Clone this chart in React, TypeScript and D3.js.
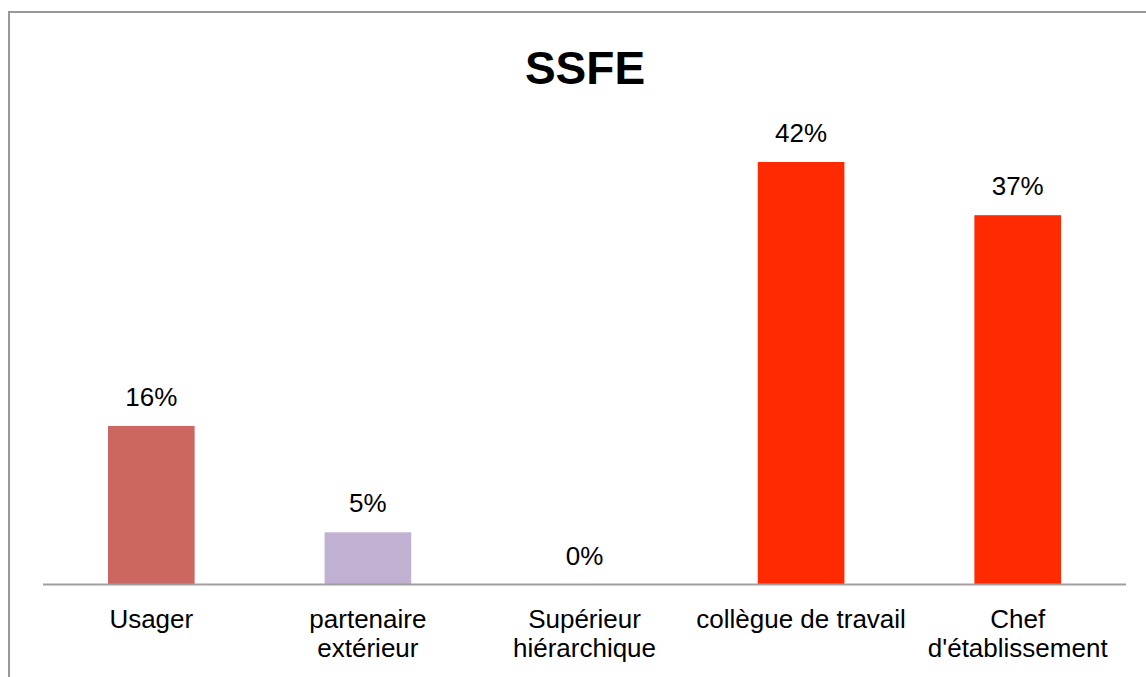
import React from 'react';
import * as d3 from 'd3';

const title = 'SSFE';
const categories = ['Usager', 'partenaire extérieur', 'Supérieur hiérarchique', 'collègue de travail', "Chef d'établissement"];
const categoryLines = [['Usager'], ['partenaire', 'extérieur'], ['Supérieur', 'hiérarchique'], ['collègue de travail'], ['Chef', "d'établissement"]];
const values = [15.8, 5.2, 0, 42.1, 36.8];
const barColors = ['#CC6660', '#C0B1D3', '#FF2A00', '#FF2A00', '#FF2A00'];

const App = () => {
  const width = 1146;
  const height = 677;
  const plot = { left: 43, right: 1126, baseline: 584.5 };
  const font = 'Liberation Sans, Arial, sans-serif';

  const xScale = d3
    .scaleBand()
    .domain(categories)
    .range([plot.left, plot.right])
    .paddingInner(0.6)
    .paddingOuter(0.3);

  const yScale = d3.scaleLinear().domain([0, 42.1]).range([plot.baseline, 162]);

  return (
    <svg width={width} height={height} style={{ position: 'absolute', left: 0, top: 0, background: '#fff' }}>
      {/* chart frame */}
      <rect x={9} y={12} width={width + 20} height={height + 20} fill="#fff" stroke="#999" strokeWidth={2} />

      <text x={585} y={84} textAnchor="middle" fontFamily={font} fontWeight="bold" fontSize={46} fill="#000">
        {title}
      </text>

      {categories.map((c, i) => {
        const x = xScale(c) as number;
        const y = yScale(values[i]);
        return (
          <g key={c}>
            <rect x={x} y={y} width={xScale.bandwidth()} height={plot.baseline - y} fill={barColors[i]} />
            <text
              x={x + xScale.bandwidth() / 2}
              y={y - 20}
              textAnchor="middle"
              fontFamily={font}
              fontSize={26}
              fill="#000"
            >
              {`${Math.round(values[i])}%`}
            </text>
          </g>
        );
      })}

      <line x1={plot.left} x2={plot.right} y1={plot.baseline} y2={plot.baseline} stroke="#a0a0a0" strokeWidth={2} />

      {categories.map((c, i) => (
        <text
          key={c}
          x={(xScale(c) as number) + xScale.bandwidth() / 2}
          y={628}
          textAnchor="middle"
          fontFamily={font}
          fontSize={26}
          fill="#000"
        >
          {categoryLines[i].map((line, j) => (
            <tspan key={j} x={(xScale(c) as number) + xScale.bandwidth() / 2} dy={j === 0 ? 0 : 29}>
              {line}
            </tspan>
          ))}
        </text>
      ))}
    </svg>
  );
};

export default App;
